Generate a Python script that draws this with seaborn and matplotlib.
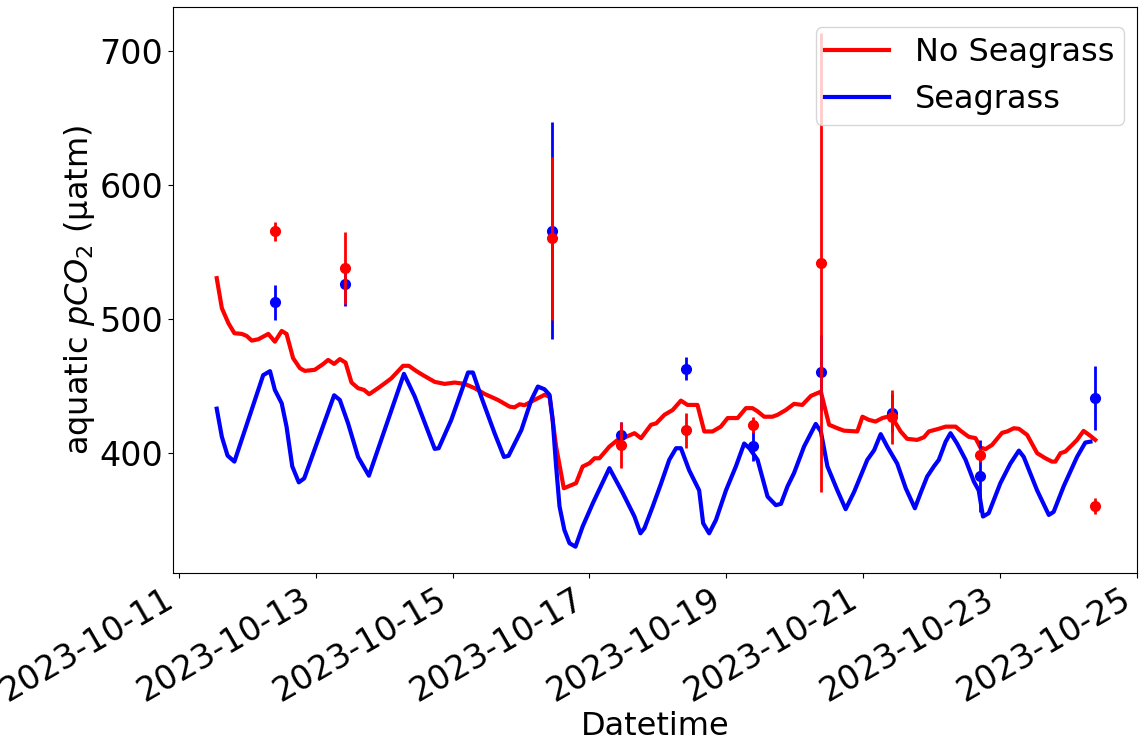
import numpy as np
import pandas as pd
import matplotlib
matplotlib.use("Agg")
import matplotlib.pyplot as plt
import matplotlib.dates as mdates
from matplotlib.lines import Line2D
import seaborn as sns

START = pd.Timestamp("2023-10-11")

# ---- continuous series (hours after 2023-10-11 00:00, pCO2 in uatm) ----
noseag_hours = [13.2, 15, 17.3, 19.4, 22, 23.7, 25.5, 27.8, 31.3, 33.6, 36, 37.7, 40, 42.4,
                44.1, 47.6, 50.6, 52.3, 54.4, 56.4, 58.4, 60.5, 62.8, 64.9, 66.7, 69.8, 72.2,
                74.5, 78.6, 80.6, 83.3, 85.6, 89.7, 93.2, 96.7, 100.2, 103.7, 107.2, 111.9,
                116, 117.7, 119.5, 121.2, 124.7, 128.2, 130, 132.3, 135, 139.3, 141.6, 144,
                145.8, 147.5, 151, 153.9, 156.9, 159.8, 162.1, 165.6, 167.4, 170.3, 173.2,
                176.1, 178.4, 181.9, 184.3, 187.2, 190.1, 192.5, 196, 198.9, 201.2, 203,
                205.3, 208.2, 210, 212.9, 215.8, 218.7, 221.7, 225.2, 228.1, 231, 233.3, 238,
                239.8, 242.1, 244.4, 246.8, 249.7, 251.5, 253.2, 255.5, 259, 261.4, 263.1,
                266.6, 269, 272.5, 274.2, 277.1, 279.5, 281.2, 283, 285.3, 288.8, 290.6,
                292.9, 294.7, 297.6, 301.1, 304, 306.3, 307.5, 309.3, 311, 313.4, 315.1,
                317.4, 319.8, 321.5]
noseag_values = [530.4, 508, 496.8, 489.3, 488.8, 487.3, 483.8, 484.8, 488.8, 483, 491, 488.8,
                 470.7, 463.2, 461.2, 462, 466.4, 469.4, 466.4, 470, 467.4, 452.5, 448.3, 447,
                 443.8, 448.3, 452, 455.7, 465, 465, 461, 458, 453, 451.5, 452.5, 451.5, 448.3,
                 444, 439.5, 434.5, 434, 436.3, 435.6, 439.5, 443.3, 442, 404.7, 373.6, 377.4,
                 389.8, 392.3, 396, 396, 404.7, 409.7, 412, 414.7, 411, 421, 422, 428.4, 432,
                 439, 435.8, 435.8, 416, 416, 419.6, 426, 426, 433.4, 433.4, 431, 427, 427,
                 428.4, 432, 436.6, 435.8, 442.5, 445.7, 421, 418.4, 416.6, 416, 427, 424.6,
                 423.4, 426, 427.6, 422, 416, 410.5, 409.7, 411.7, 416, 418, 419.6, 419.6,
                 416.6, 412, 411, 404, 402.8, 406, 415, 416, 418.4, 418, 413.4, 399.8, 396,
                 393.5, 393.5, 399.8, 401, 406, 409.7, 416.4, 412.7, 409.7]

seag_hours = [13.2, 15, 17, 19.4, 29.5, 31.9, 33.6, 36, 37.7, 39.7, 42, 43.9, 54.4, 56.4, 59.3,
              62.8, 66.6, 78.9, 82.7, 89.7, 91.1, 95.5, 101.4, 103.1, 106, 110.7, 114, 115.6,
              120.1, 123.6, 125.9, 128.2, 130, 131.1, 132.3, 133.5, 135.2, 137, 139.1, 141.6,
              145.2, 151, 155.7, 159.8, 161.9, 163.3, 166.2, 169.1, 172, 174.4, 176.1, 179,
              182.5, 183.9, 186, 188.4, 191.9, 195.4, 198.3, 200.1, 203, 206.5, 209.4, 211.2,
              213.5, 215.8, 219.3, 223.4, 225.2, 227.5, 231, 233.9, 236.9, 241.5, 243.9,
              246.2, 248.5, 252, 255, 258.2, 260.2, 262.5, 264.9, 266.6, 269, 270.7, 273, 276,
              278.9, 280.6, 282.1, 284.1, 288.2, 291.7, 294.7, 296.4, 301.1, 305.2, 306.9,
              310.4, 315.1, 318, 319.8]
seag_values = [433, 412, 398, 393.5, 458, 461, 447, 437, 419.6, 390, 378, 381, 443, 439.5, 422,
               397, 383, 459, 442, 403, 403.5, 424.6, 460, 460, 442, 414.7, 397, 397.8, 417,
               439.5, 449.5, 447.5, 443.3, 424.6, 390, 360, 342.5, 332.6, 330, 345, 362.5,
               388.6, 370, 352.5, 340, 343.8, 360, 377, 394.8, 403.5, 403.5, 387, 372, 347.5,
               340, 350, 372, 390, 407, 403.5, 394.8, 367.4, 361, 362, 375, 385, 404.7, 421.6,
               416, 390, 372, 358, 371, 394.8, 402, 414, 404.7, 392, 373.6, 358.7, 370, 382.3,
               390, 394.8, 408.4, 414.7, 407, 394.8, 378.6, 372, 352.5, 355, 377.4, 392,
               401.7, 397, 372, 353.7, 356, 375, 397, 407.7, 408.4]

# ---- discrete samples with error bars ----
sample_hours = [33.6, 58.2, 130.7, 155.2, 178.0, 201.3, 225.4, 250.2, 280.9, 321.5]
noseag_mean = [565.5, 538, 560, 406, 417, 421, 542, 427, 398.5, 360.4]
noseag_err = [7, 27, 61, 17, 13, 6, 171, 20, 5, 6]
seag_mean = [512.5, 525.9, 565.7, 413, 462.7, 405.2, 460.2, 429.6, 382.8, 440.8]
seag_err = [13, 16, 81, 10, 8.5, 11, 28, 14, 27, 24]

SERIES = ["No Seagrass", "Seagrass"]
COLORS = {"No Seagrass": "red", "Seagrass": "blue"}


def to_time(hours):
    return START + pd.to_timedelta(np.asarray(hours, dtype=float), unit="h")


df = pd.concat([
    pd.DataFrame({"Datetime": to_time(noseag_hours), "pCO2": noseag_values, "Site": SERIES[0]}),
    pd.DataFrame({"Datetime": to_time(seag_hours), "pCO2": seag_values, "Site": SERIES[1]}),
], ignore_index=True)

fig = plt.figure(figsize=(11.39, 7.42), dpi=100)
ax = fig.add_axes([0.152, 0.228, 0.846, 0.763])

sns.lineplot(data=df, x="Datetime", y="pCO2", hue="Site", palette=COLORS,
             hue_order=SERIES, linewidth=3, ax=ax, legend=False, estimator=None)

st = to_time(sample_hours)
ax.errorbar(st, seag_mean, yerr=seag_err, fmt="o", color="blue", markersize=7,
            elinewidth=2, capsize=0, zorder=3)
ax.errorbar(st, noseag_mean, yerr=noseag_err, fmt="o", color="red", markersize=7,
            elinewidth=2, capsize=0, zorder=4)

ax.set_xlim(START - pd.Timedelta(hours=2.1), START + pd.Timedelta(hours=336.05))
ax.set_ylim(310.5, 733)
ax.set_yticks([400, 500, 600, 700])

ax.xaxis.set_major_locator(mdates.DayLocator(bymonthday=list(range(1, 32, 2))))
ax.xaxis.set_major_formatter(mdates.DateFormatter("%Y-%m-%d"))
ax.tick_params(axis="both", labelsize=24)
plt.setp(ax.get_xticklabels(), rotation=30, ha="right")

ax.set_xlabel("Datetime", fontsize=23, labelpad=2)
ax.set_ylabel("aquatic $pCO_2$ (µatm)", fontsize=23, labelpad=2)

handles = [Line2D([], [], color=COLORS[s], linewidth=3) for s in SERIES]
ax.legend(handles, SERIES, loc="upper right", fontsize=23, borderaxespad=0.4,
          borderpad=0.3, bbox_to_anchor=(1.0, 0.986))

fig.savefig("out.png", dpi=100)
